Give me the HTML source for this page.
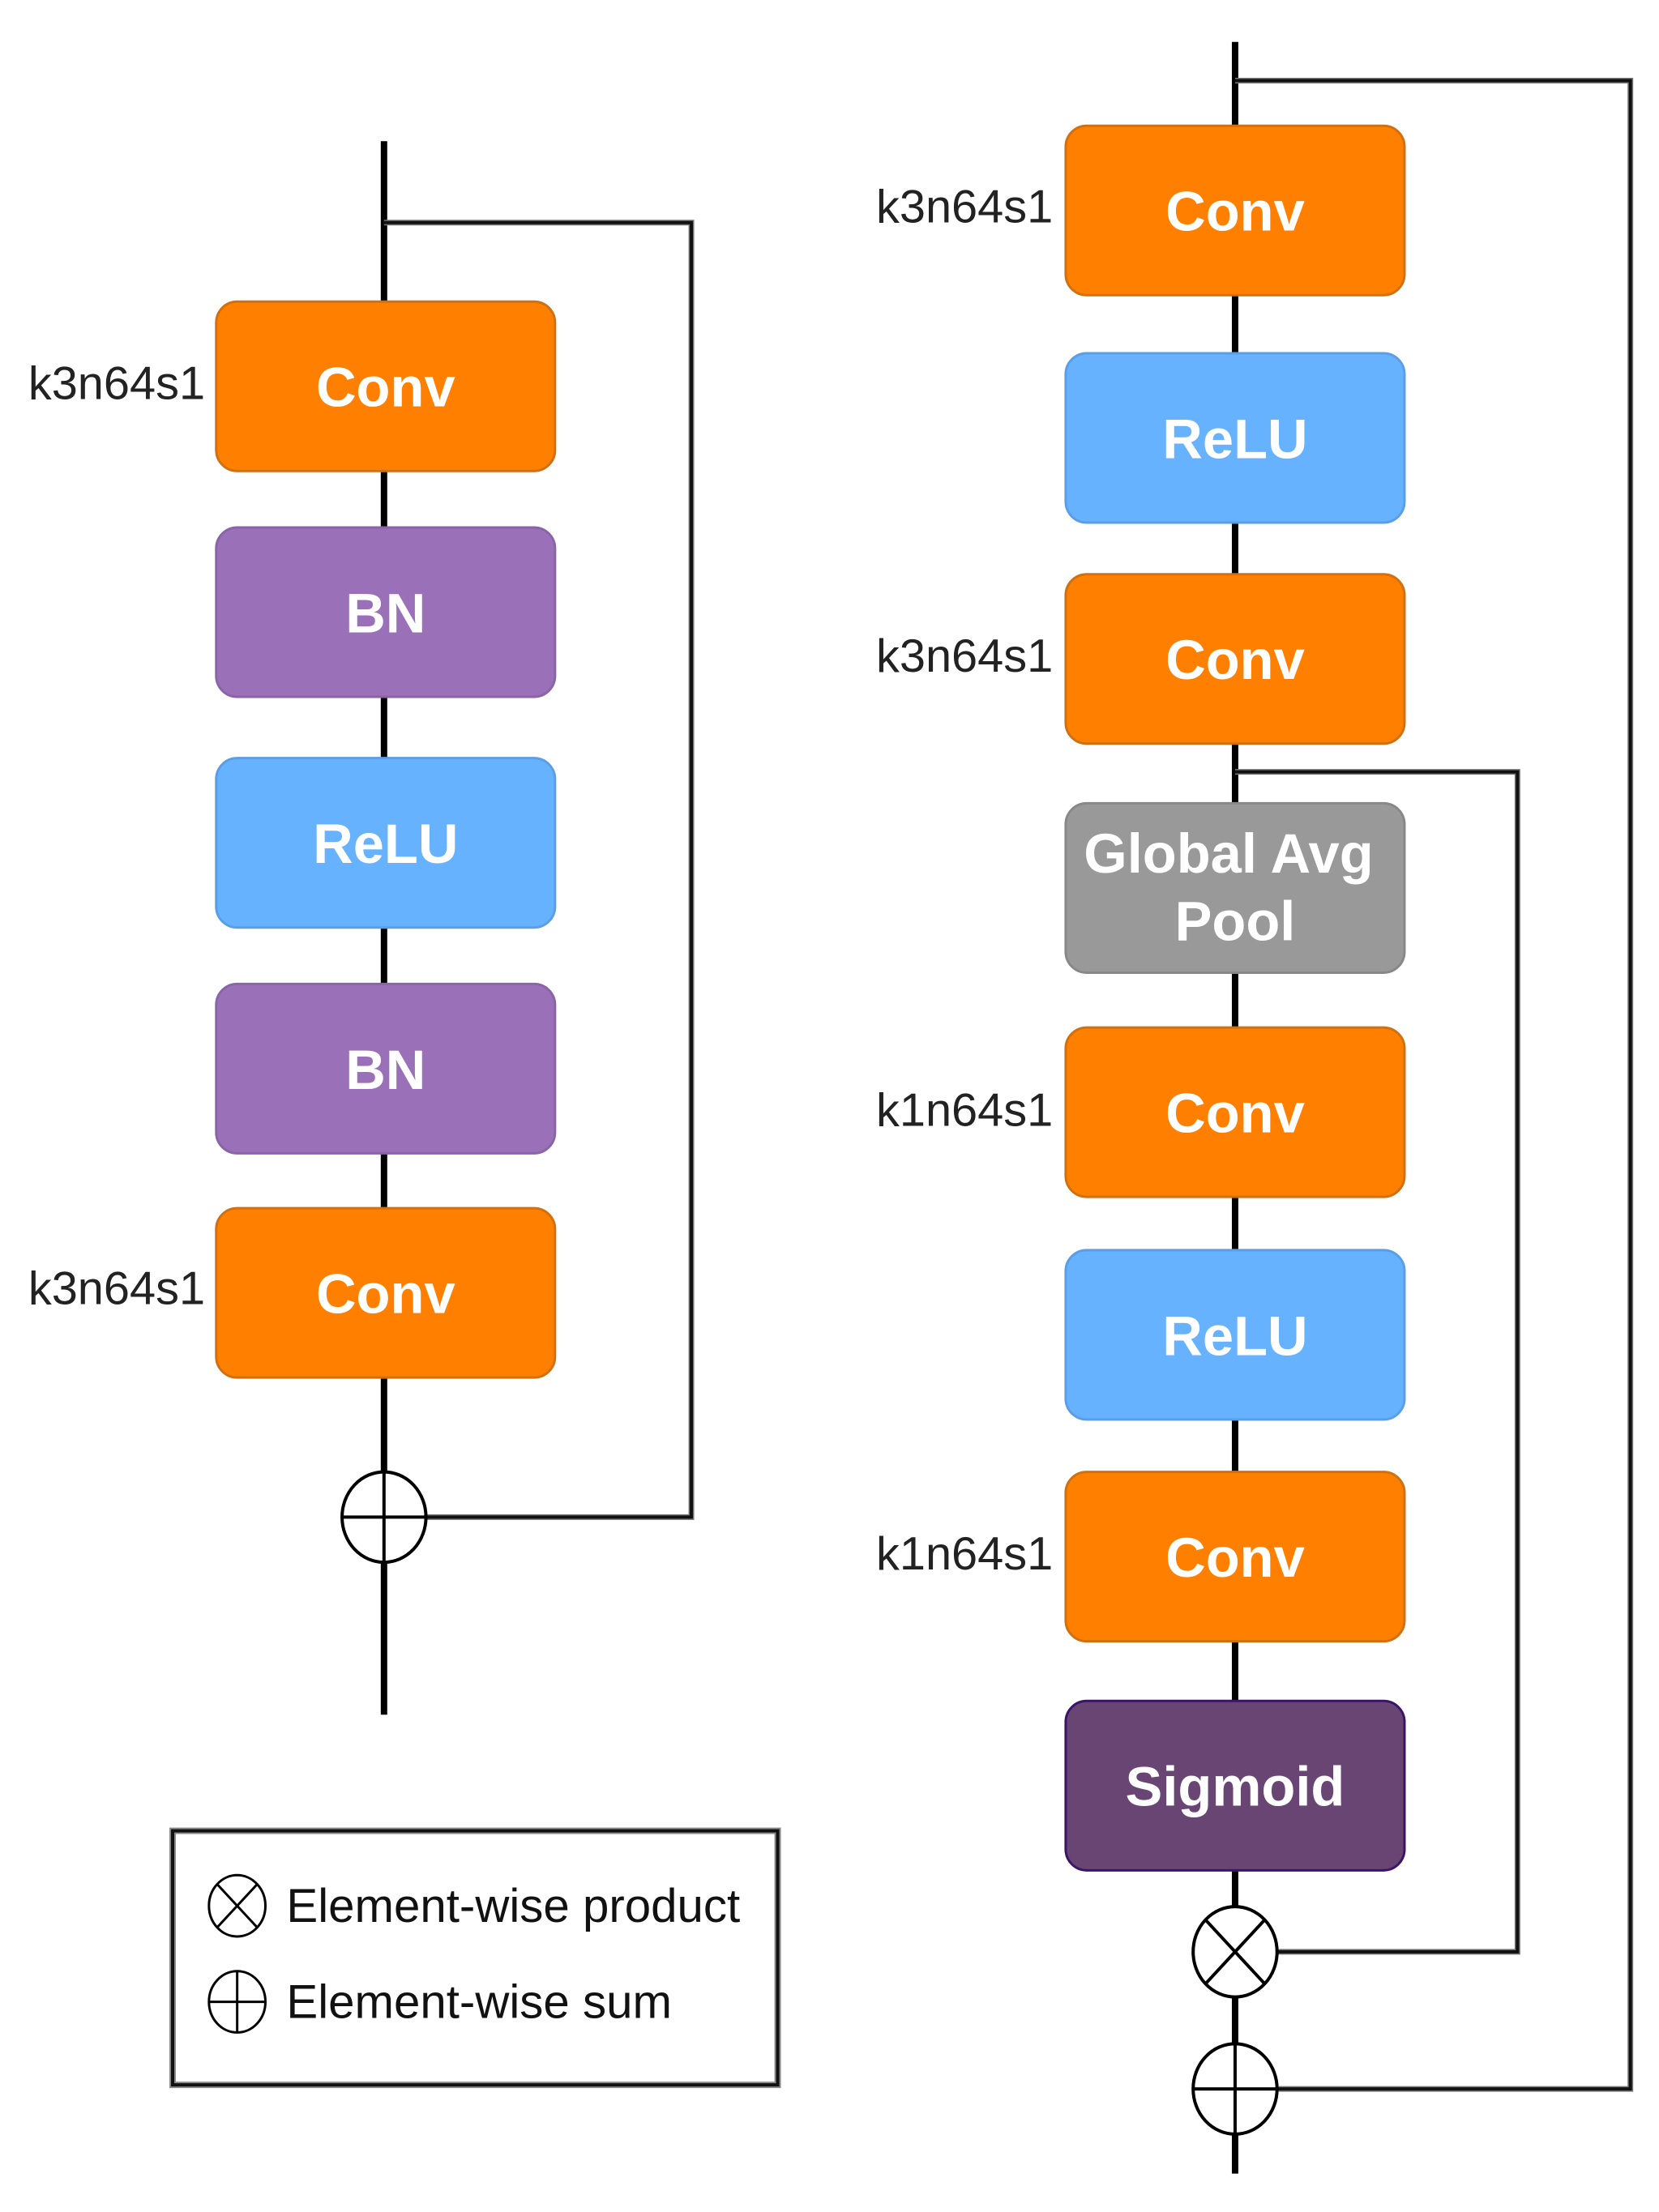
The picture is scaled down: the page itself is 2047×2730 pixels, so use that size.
<!DOCTYPE html>
<html><head><meta charset="utf-8"><style>
html,body{margin:0;padding:0;background:#fff;}
svg{display:block;}
.lbl{font-family:"Liberation Sans",sans-serif;font-size:58px;fill:#222;}
.bx{font-family:"Liberation Sans",sans-serif;font-weight:bold;font-size:69px;fill:#fff;text-anchor:middle;}
.lg{font-family:"Liberation Sans",sans-serif;font-size:58.5px;fill:#111;}
</style></head><body>
<svg width="2047" height="2730" viewBox="0 0 2047 2730" xmlns="http://www.w3.org/2000/svg">
<rect width="2047" height="2730" fill="#fff"/>
<g transform="scale(0.9954)">
<!-- LEFT -->
<line x1="476" y1="175" x2="476" y2="2126" stroke="#000" stroke-width="8"/>
<polyline points="476,276 857,276 857,1881 528,1881" fill="none" stroke="#777" stroke-width="7"/>
<polyline points="476,276 857,276 857,1881 528,1881" fill="none" stroke="#111" stroke-width="4"/>
<g stroke-width="3">
<rect x="268" y="374" width="420" height="210" rx="26" fill="#FF8000" stroke="#D07010"/>
<rect x="268" y="654" width="420" height="210" rx="26" fill="#9A71B9" stroke="#8a64a6"/>
<rect x="268" y="940" width="420" height="210" rx="26" fill="#66B2FF" stroke="#5a9ee6"/>
<rect x="268" y="1220" width="420" height="210" rx="26" fill="#9A71B9" stroke="#8a64a6"/>
<rect x="268" y="1498" width="420" height="210" rx="26" fill="#FF8000" stroke="#D07010"/>
</g>
<text class="bx" x="478" y="504">Conv</text>
<text class="bx" x="478" y="784">BN</text>
<text class="bx" x="478" y="1070">ReLU</text>
<text class="bx" x="478" y="1350">BN</text>
<text class="bx" x="478" y="1628">Conv</text>
<text class="lbl" x="35" y="495">k3n64s1</text>
<text class="lbl" x="35" y="1617">k3n64s1</text>
<ellipse cx="476" cy="1881" rx="52" ry="56" fill="#fff" stroke="#000" stroke-width="4"/>
<line x1="424" y1="1881" x2="528" y2="1881" stroke="#000" stroke-width="4"/>
<line x1="476" y1="1825" x2="476" y2="1937" stroke="#000" stroke-width="4"/>
<!-- RIGHT -->
<line x1="1531" y1="52" x2="1531" y2="2695" stroke="#000" stroke-width="8"/>
<polyline points="1531,100 2021,100 2021,2590 1583,2590" fill="none" stroke="#777" stroke-width="7"/>
<polyline points="1531,100 2021,100 2021,2590 1583,2590" fill="none" stroke="#111" stroke-width="4"/>
<polyline points="1531,957 1881,957 1881,2420 1583,2420" fill="none" stroke="#777" stroke-width="7"/>
<polyline points="1531,957 1881,957 1881,2420 1583,2420" fill="none" stroke="#111" stroke-width="4"/>
<g stroke-width="3">
<rect x="1321" y="156" width="420" height="210" rx="26" fill="#FF8000" stroke="#D07010"/>
<rect x="1321" y="438" width="420" height="210" rx="26" fill="#66B2FF" stroke="#5a9ee6"/>
<rect x="1321" y="712" width="420" height="210" rx="26" fill="#FF8000" stroke="#D07010"/>
<rect x="1321" y="996" width="420" height="210" rx="26" fill="#999999" stroke="#888"/>
<rect x="1321" y="1274" width="420" height="210" rx="26" fill="#FF8000" stroke="#D07010"/>
<rect x="1321" y="1550" width="420" height="210" rx="26" fill="#66B2FF" stroke="#5a9ee6"/>
<rect x="1321" y="1825" width="420" height="210" rx="26" fill="#FF8000" stroke="#D07010"/>
<rect x="1321" y="2109" width="420" height="210" rx="26" fill="#694574" stroke="#3a1466"/>
</g>
<text class="bx" x="1531" y="286">Conv</text>
<text class="bx" x="1531" y="568">ReLU</text>
<text class="bx" x="1531" y="842">Conv</text>
<text class="bx" x="1523" y="1082">Global Avg</text>
<text class="bx" x="1531" y="1166">Pool</text>
<text class="bx" x="1531" y="1404">Conv</text>
<text class="bx" x="1531" y="1680">ReLU</text>
<text class="bx" x="1531" y="1955">Conv</text>
<text class="bx" x="1531" y="2239">Sigmoid</text>
<text class="lbl" x="1086" y="276">k3n64s1</text>
<text class="lbl" x="1086" y="833">k3n64s1</text>
<text class="lbl" x="1086" y="1396">k1n64s1</text>
<text class="lbl" x="1086" y="1946">k1n64s1</text>
<ellipse cx="1531" cy="2420" rx="52" ry="56" fill="#fff" stroke="#000" stroke-width="4"/>
<line x1="1494" y1="2380" x2="1568" y2="2460" stroke="#000" stroke-width="4"/>
<line x1="1568" y1="2380" x2="1494" y2="2460" stroke="#000" stroke-width="4"/>
<ellipse cx="1531" cy="2590" rx="52" ry="56" fill="#fff" stroke="#000" stroke-width="4"/>
<line x1="1479" y1="2590" x2="1583" y2="2590" stroke="#000" stroke-width="4"/>
<line x1="1531" y1="2534" x2="1531" y2="2646" stroke="#000" stroke-width="4"/>
<!-- LEGEND -->
<rect x="214" y="2270" width="750" height="315" fill="#fff" stroke="#888" stroke-width="8"/>
<rect x="214" y="2270" width="750" height="315" fill="none" stroke="#111" stroke-width="4"/>
<ellipse cx="294" cy="2363" rx="35" ry="38" fill="#fff" stroke="#000" stroke-width="3"/>
<line x1="269" y1="2336" x2="319" y2="2390" stroke="#000" stroke-width="3"/>
<line x1="319" y1="2336" x2="269" y2="2390" stroke="#000" stroke-width="3"/>
<ellipse cx="294" cy="2482" rx="35" ry="38" fill="#fff" stroke="#000" stroke-width="3"/>
<line x1="259" y1="2482" x2="329" y2="2482" stroke="#000" stroke-width="3"/>
<line x1="294" y1="2444" x2="294" y2="2520" stroke="#000" stroke-width="3"/>
<text class="lg" x="355" y="2383">Element-wise product</text>
<text class="lg" x="355" y="2502">Element-wise sum</text>
</g>
</svg>
</body></html>
